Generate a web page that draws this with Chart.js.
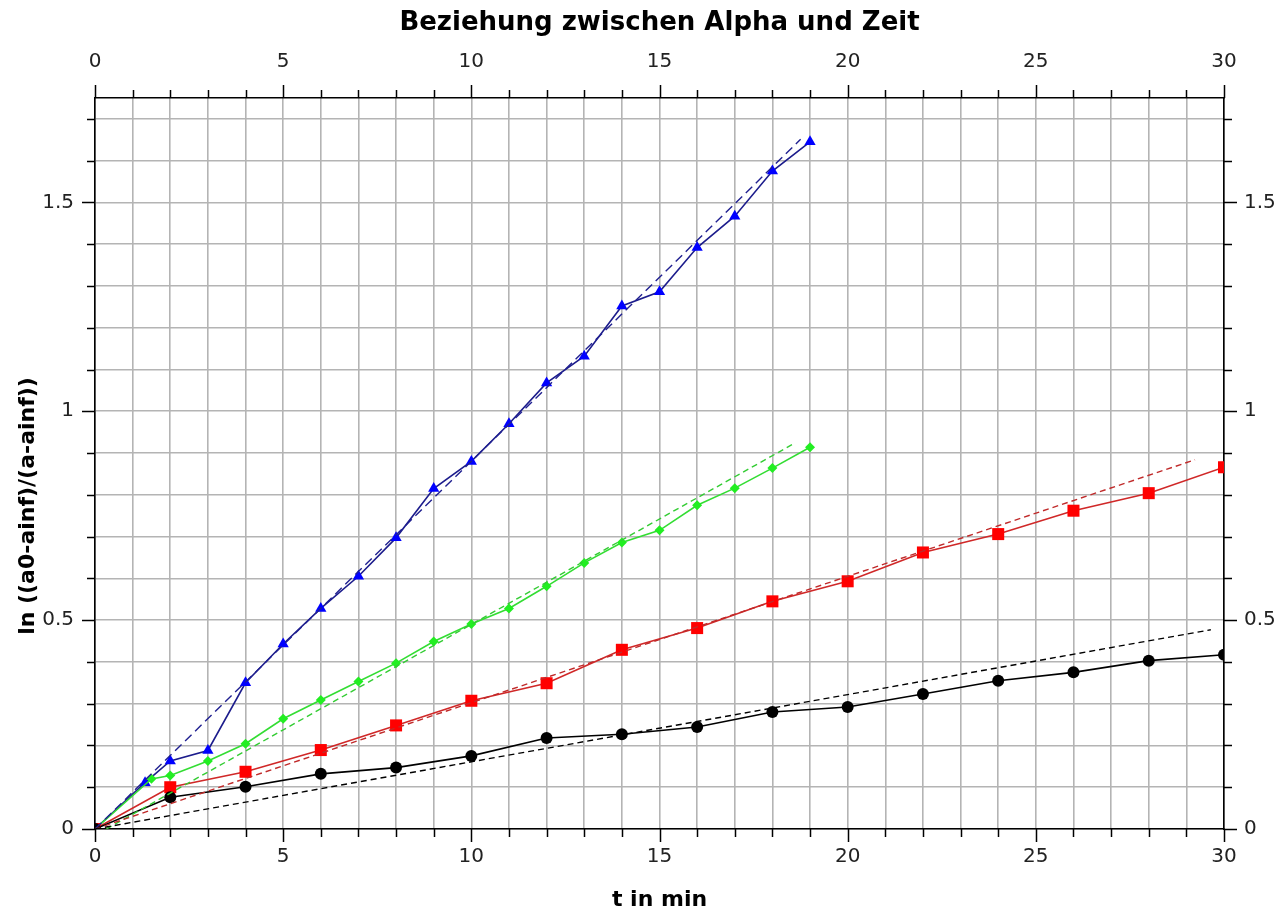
<!DOCTYPE html>
<html>
<head>
<meta charset="utf-8">
<script src="https://cdn.jsdelivr.net/npm/chart.js@4.4.1/dist/chart.umd.min.js"></script>
<style>
  html, body { margin: 0; padding: 0; background: #ffffff; }
  #wrap { width: 1286px; height: 913px; }
</style>
</head>
<body>
<div id="wrap"><canvas id="c" width="1286" height="913"></canvas></div>
<script>
// ---- data ----
const tBlack = [0, 2, 4, 6, 8, 10, 12, 14, 16, 18, 20, 22, 24, 26, 28, 30];
const yBlack = [0, 0.076, 0.101, 0.132, 0.147, 0.175, 0.218, 0.227, 0.244, 0.280, 0.292, 0.323, 0.355, 0.375, 0.403, 0.417];

const tRed = [0, 2, 4, 6, 8, 10, 12, 14, 16, 18, 20, 22, 24, 26, 28, 30];
const yRed = [0, 0.100, 0.137, 0.189, 0.248, 0.307, 0.349, 0.429, 0.481, 0.545, 0.593, 0.662, 0.706, 0.762, 0.804, 0.866];

const tGreen = [0, 1.5, 2, 3, 4, 5, 6, 7, 8, 9, 10, 11, 12, 13, 14, 15, 16, 17, 18, 19];
const yGreen = [0, 0.120, 0.128, 0.163, 0.204, 0.264, 0.309, 0.353, 0.397, 0.449, 0.491, 0.528, 0.581, 0.637, 0.686, 0.715, 0.775, 0.816, 0.864, 0.914];

const tBlue = [0, 1.33, 2, 3, 4, 5, 6, 7, 8, 9, 10, 11, 12, 13, 14, 15, 16, 17, 18, 19];
const yBlue = [0, 0.111, 0.163, 0.188, 0.350, 0.443, 0.528, 0.605, 0.697, 0.815, 0.880, 0.970, 1.068, 1.132, 1.252, 1.286, 1.392, 1.467, 1.575, 1.645];

// fitted (dashed) lines: start and end points
const tFitBlack = [0, 29.65];
const yFitBlack = [0, 0.477];
const tFitRed = [0, 29.23];
const yFitRed = [0, 0.884];
const tFitGreen = [0.3, 18.56];
const yFitGreen = [0, 0.922];
const tFitBlue = [0, 18.75];
const yFitBlue = [0, 1.651];

const titleText = 'Beziehung zwischen Alpha und Zeit';
const xTitle = 't in min';
const yTitle = 'ln ((a0-ainf)/(a-ainf))';
const xMin = 0, xMax = 30, xStep = 1;
const yMin = 0, yMax = 1.75, yStep = 0.1;

function pts(ts, ys) { return ts.map((t, i) => ({ x: t, y: ys[i] })); }

const FONT = 'DejaVu Sans';

// tick marks outside the plot on all four sides (major every 5 / 0.5)
const tickMarks = {
  id: 'tickMarks',
  afterDraw(chart) {
    const { ctx, chartArea: a, scales } = chart;
    const x = scales.x, y = scales.y;
    ctx.save();
    ctx.strokeStyle = '#000';
    ctx.lineWidth = 1.5;
    ctx.beginPath();
    x.ticks.forEach(t => {
      const px = Math.round(x.getPixelForValue(t.value)) + 0.5;
      const L = (Math.round(t.value) % 5 === 0) ? 13 : 8;
      ctx.moveTo(px, a.bottom); ctx.lineTo(px, a.bottom + L);
      ctx.moveTo(px, a.top); ctx.lineTo(px, a.top - L);
    });
    y.ticks.forEach(t => {
      const py = Math.round(y.getPixelForValue(t.value)) + 0.5;
      const L = (Math.round(t.value * 10) % 5 === 0) ? 13 : 8;
      ctx.moveTo(a.left, py); ctx.lineTo(a.left - L, py);
      ctx.moveTo(a.right, py); ctx.lineTo(a.right + L, py);
    });
    ctx.stroke();
    // y axis title
    ctx.translate(28, 506);
    ctx.rotate(-Math.PI / 2);
    ctx.fillStyle = '#000';
    ctx.font = 'bold 22px "' + FONT + '"';
    ctx.textAlign = 'center';
    ctx.textBaseline = 'middle';
    ctx.fillText(yTitle, 0, 0);
    ctx.restore();
  }
};

function xLabel(v) { return (Math.round(v) % 5 === 0) ? String(v) : ''; }
function yLabel(v) { const k = Math.round(v * 10); return (k % 5 === 0) ? String(k / 10) : ''; }

const tickFont = { family: FONT, size: 20 };

new Chart(document.getElementById('c'), {
  type: 'scatter',
  data: {
    datasets: [
      { label: 'fit black', data: pts(tFitBlack, yFitBlack), showLine: true, borderColor: '#000000', borderWidth: 1.4, borderDash: [6, 4], pointRadius: 0 },
      { label: 'fit red', data: pts(tFitRed, yFitRed), showLine: true, borderColor: '#c02a2a', borderWidth: 1.4, borderDash: [6, 4], pointRadius: 0 },
      { label: 'fit green', data: pts(tFitGreen, yFitGreen), showLine: true, borderColor: '#33cc33', borderWidth: 1.4, borderDash: [6, 4], pointRadius: 0 },
      { label: 'fit blue', data: pts(tFitBlue, yFitBlue), showLine: true, borderColor: '#202090', borderWidth: 1.4, borderDash: [9, 5], pointRadius: 0 },
      { label: 'black', data: pts(tBlack, yBlack), showLine: true, borderColor: '#000000', borderWidth: 1.6, pointStyle: 'circle', pointRadius: 6, pointBackgroundColor: '#000000', pointBorderColor: '#000000', pointBorderWidth: 0 },
      { label: 'red', data: pts(tRed, yRed), showLine: true, borderColor: '#d02828', borderWidth: 1.6, pointStyle: 'rect', pointRadius: 8.5, pointBackgroundColor: '#ff0000', pointBorderColor: '#ff0000', pointBorderWidth: 0 },
      { label: 'green', data: pts(tGreen, yGreen), showLine: true, borderColor: '#33dd33', borderWidth: 1.6, pointStyle: 'rectRot', pointRadius: 5, pointBackgroundColor: '#22ee22', pointBorderColor: '#22ee22', pointBorderWidth: 0 },
      { label: 'blue', data: pts(tBlue, yBlue), showLine: true, borderColor: '#1c1c8c', borderWidth: 1.6, pointStyle: 'triangle', pointRadius: 6.5, pointBackgroundColor: '#0000ff', pointBorderColor: '#0000ff', pointBorderWidth: 0 }
    ]
  },
  options: {
    responsive: false,
    animation: false,
    events: [],
    layout: { padding: 0 },
    plugins: {
      legend: { display: false },
      tooltip: { enabled: false },
      title: {
        display: true,
        text: titleText,
        fullSize: false,
        color: '#000',
        font: { family: FONT, size: 26, weight: 'bold', lineHeight: 1.2 },
        padding: { top: 8, bottom: 0 }
      }
    },
    scales: {
      x: {
        type: 'linear', position: 'bottom', min: xMin, max: xMax,
        ticks: { stepSize: xStep, callback: xLabel, autoSkip: false, maxRotation: 0, color: '#222', font: tickFont, padding: 16, includeBounds: false },
        grid: { color: '#b4b4b4', lineWidth: 1.6, drawTicks: false },
        border: { display: true, color: '#000', width: 1.6 },
        title: { display: true, text: xTitle, color: '#000', font: { family: FONT, size: 22, weight: 'bold' }, padding: { top: 0, bottom: 0 } },
        afterFit(s) { s.height = 84; }
      },
      x2: {
        type: 'linear', position: 'top', min: xMin, max: xMax,
        ticks: { stepSize: xStep, callback: xLabel, autoSkip: false, maxRotation: 0, color: '#222', font: tickFont, padding: 24, includeBounds: false },
        grid: { display: false, drawTicks: false },
        border: { display: true, color: '#000', width: 1.6 },
        afterFit(s) { s.height = 98 - 39.2; }
      },
      y: {
        type: 'linear', position: 'left', min: yMin, max: yMax,
        ticks: { stepSize: yStep, callback: yLabel, autoSkip: false, color: '#222', font: tickFont, padding: 21, includeBounds: false },
        grid: { color: '#b4b4b4', lineWidth: 1.6, drawTicks: false },
        border: { display: true, color: '#000', width: 1.6 },
        afterFit(s) { s.width = 95; }
      },
      y2: {
        type: 'linear', position: 'right', min: yMin, max: yMax,
        ticks: { stepSize: yStep, callback: yLabel, autoSkip: false, color: '#222', font: tickFont, padding: 20, includeBounds: false },
        grid: { display: false, drawTicks: false },
        border: { display: true, color: '#000', width: 1.6 },
        afterFit(s) { s.width = 62; }
      }
    }
  },
  plugins: [tickMarks]
});
</script>
</body>
</html>
